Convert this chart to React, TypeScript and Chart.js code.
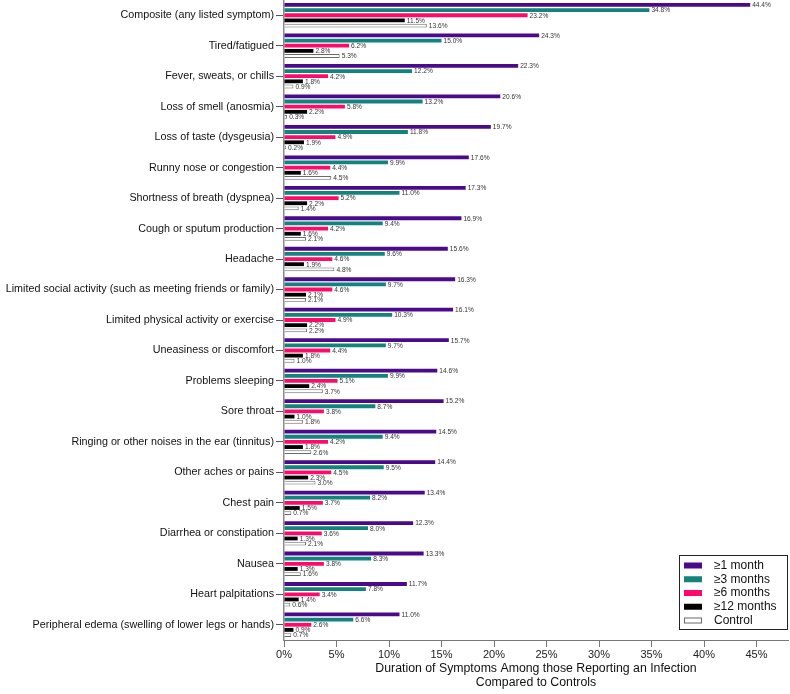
import { useEffect, useRef } from 'react';
import { Chart, registerables } from 'chart.js';

Chart.register(...registerables);

const categories = [
  'Composite (any listed symptom)',
  'Tired/fatigued',
  'Fever, sweats, or chills',
  'Loss of smell (anosmia)',
  'Loss of taste (dysgeusia)',
  'Runny nose or congestion',
  'Shortness of breath (dyspnea)',
  'Cough or sputum production',
  'Headache',
  'Limited social activity (such as meeting friends or family)',
  'Limited physical activity or exercise',
  'Uneasiness or discomfort',
  'Problems sleeping',
  'Sore throat',
  'Ringing or other noises in the ear (tinnitus)',
  'Other aches or pains',
  'Chest pain',
  'Diarrhea or constipation',
  'Nausea',
  'Heart palpitations',
  'Peripheral edema (swelling of lower legs or hands)',
];

const oneMonth = [44.4, 24.3, 22.3, 20.6, 19.7, 17.6, 17.3, 16.9, 15.6, 16.3, 16.1, 15.7, 14.6, 15.2, 14.5, 14.4, 13.4, 12.3, 13.3, 11.7, 11.0];
const threeMonths = [34.8, 15.0, 12.2, 13.2, 11.8, 9.9, 11.0, 9.4, 9.6, 9.7, 10.3, 9.7, 9.9, 8.7, 9.4, 9.5, 8.2, 8.0, 8.3, 7.8, 6.6];
const sixMonths = [23.2, 6.2, 4.2, 5.8, 4.9, 4.4, 5.2, 4.2, 4.6, 4.6, 4.9, 4.4, 5.1, 3.8, 4.2, 4.5, 3.7, 3.6, 3.8, 3.4, 2.6];
const twelveMonths = [11.5, 2.8, 1.8, 2.2, 1.9, 1.6, 2.2, 1.6, 1.9, 2.1, 2.2, 1.8, 2.4, 1.0, 1.8, 2.3, 1.5, 1.3, 1.3, 1.4, 0.9];
const control = [13.6, 5.3, 0.9, 0.3, 0.2, 4.5, 1.4, 2.1, 4.8, 2.1, 2.2, 1.0, 3.7, 1.8, 2.6, 3.0, 0.7, 2.1, 1.6, 0.6, 0.7];

const seriesNames = ['\u22651 month', '\u22653 months', '\u22656 months', '\u226512 months', 'Control'];
const xTicks = [0, 5, 10, 15, 20, 25, 30, 35, 40, 45];

const FONT = '"Liberation Sans", Arial, Helvetica, sans-serif';
const fills = ['#4b0a8a', '#13837e', '#ff0a6a', '#000000', '#ffffff'];
const borders = ['#4b0a8a', '#13837e', '#ff0a6a', '#000000', '#6a6a6a'];

const dataLabelPlugin = {
  id: 'dataLabels',
  afterDatasetsDraw(chart: any) {
    const { ctx, chartArea } = chart;
    ctx.save();
    ctx.font = `6.6px ${FONT}`;
    ctx.fillStyle = '#333';
    ctx.textAlign = 'left';
    ctx.textBaseline = 'middle';
    chart.data.datasets.forEach((ds: any, di: number) => {
      const meta = chart.getDatasetMeta(di);
      meta.data.forEach((el: any, i: number) => {
        const v = ds.data[i];
        if (el.y + 3 > chartArea.bottom) return;
        ctx.fillText(v.toFixed(1) + '%', el.x + 2, el.y + 0.5);
      });
    });
    ctx.restore();
  },
};

const legendPlugin = {
  id: 'boxLegend',
  afterDraw(chart: any) {
    const { ctx, chartArea } = chart;
    const w = 108;
    const h = 74;
    const right = Math.round(chartArea.right) - 1;
    const bottom = Math.round(chartArea.bottom) - 11;
    const left = right - w;
    const top = bottom - h;
    ctx.save();
    ctx.fillStyle = '#ffffff';
    ctx.fillRect(left, top, w, h);
    ctx.strokeStyle = '#222';
    ctx.lineWidth = 1;
    ctx.strokeRect(left + 0.5, top + 0.5, w, h);
    ctx.font = `12px ${FONT}`;
    ctx.textBaseline = 'middle';
    ctx.textAlign = 'left';
    seriesNames.forEach((name, i) => {
      const cy = top + 10.5 + i * 13.75;
      ctx.fillStyle = fills[i];
      ctx.fillRect(left + 5, cy - 3, 18, 6);
      if (i === 4) {
        ctx.strokeStyle = borders[i];
        ctx.strokeRect(left + 5.5, cy - 2.5, 17, 5);
      }
      ctx.fillStyle = '#111';
      ctx.fillText(name, left + 35, cy);
    });
    ctx.restore();
  },
};

export default function App() {
  const ref = useRef<HTMLCanvasElement | null>(null);

  useEffect(() => {
    if (!ref.current) return;
    const seriesData = [oneMonth, threeMonths, sixMonths, twelveMonths, control];
    const chart = new Chart(ref.current, {
      type: 'bar',
      data: {
        labels: categories,
        datasets: seriesData.map((d, i) => ({
          label: seriesNames[i],
          data: d,
          backgroundColor: fills[i],
          borderColor: borders[i],
          borderWidth: i === 4 ? 1 : 0,
          categoryPercentage: 0.845,
          barPercentage: 0.74,
        })),
      },
      options: {
        indexAxis: 'y',
        responsive: false,
        animation: false,
        devicePixelRatio: 1,
        layout: { padding: { left: 4, right: 2, top: 0, bottom: 0 } },
        plugins: {
          legend: { display: false },
          tooltip: { enabled: false },
        },
        scales: {
          y: {
            type: 'category',
            grid: { offset: false, drawOnChartArea: false, drawTicks: true, tickLength: 8, color: '#555' },
            border: { display: true, color: '#8a8a8a', width: 1.5 },
            ticks: { autoSkip: false, padding: 2, color: '#111', font: { family: FONT, size: 10.75 } },
            afterFit: (s: any) => {
              s.width = 280;
              s.paddingTop = 0;
              s.paddingBottom = 0;
            },
          },
          x: {
            type: 'linear',
            min: 0,
            max: 48,
            afterBuildTicks: (s: any) => { s.ticks = xTicks.map((v) => ({ value: v })); },
            grid: { drawOnChartArea: false, drawTicks: true, tickLength: 7, color: '#777' },
            border: { display: true, color: '#777', width: 1 },
            ticks: {
              padding: 1,
              color: '#222',
              font: { family: FONT, size: 11 },
              callback: (v: any) => v + '%',
            },
            title: {
              display: true,
              text: ['Duration of Symptoms Among those Reporting an Infection', 'Compared to Controls'],
              color: '#111',
              font: { family: FONT, size: 12.3, lineHeight: 1.16 },
              padding: { top: 2, bottom: 4 },
            },
            afterFit: (s: any) => { s.height = 54; },
          },
        },
      },
      plugins: [dataLabelPlugin, legendPlugin],
    } as any);
    return () => chart.destroy();
  }, []);

  return (
    <div style={{ position: 'fixed', left: 0, top: 0, width: 790, height: 694, background: '#fff' }}>
      <canvas ref={ref} width={790} height={694} style={{ display: 'block', width: 790, height: 694 }} />
    </div>
  );
}
